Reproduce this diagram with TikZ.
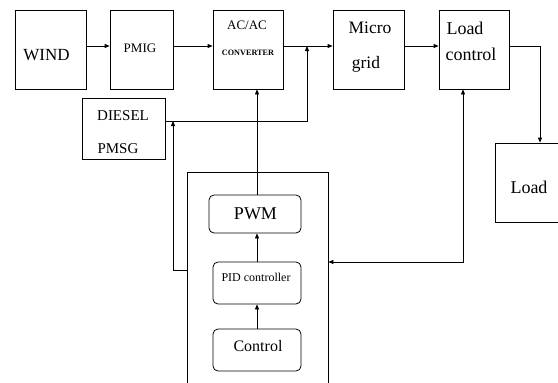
\documentclass[tikz,border=0pt]{standalone}
\usepackage{fontspec}
\setmainfont{Liberation Serif}
\usetikzlibrary{arrows.meta,positioning}

\tikzset{
  blk/.style={draw, line width=0.8pt, inner sep=0pt, minimum height=79pt},
  rblk/.style={draw, line width=0.8pt, rounded corners=5pt, inner sep=0pt},
  lbl/.style={inner sep=0pt, anchor=base},
  wire/.style={line width=0.8pt},
  >={Triangle[length=5pt,width=4pt]}
}

\begin{document}
\begin{tikzpicture}[x=1pt,y=-1pt]
\useasboundingbox (0,0) rectangle (558,383);

\node[blk, minimum width=71pt] (wind) at (50.5,49.5) {};
\node[blk, minimum width=63pt] (pmig) at (141.5,49.5) {};
\node[blk, minimum width=70pt] (conv) at (248,49.5) {};
\node[blk, minimum width=71pt] (micro) at (368.5,49.5) {};
\node[blk, minimum width=70pt] (loadctl) at (474,49.5) {};
\node[blk, minimum width=83pt, minimum height=61pt] (diesel) at (123.5,128.5) {};
\node[blk, minimum width=70pt] (load) at (530,182.5) {};
\node[blk, minimum width=141pt, minimum height=228pt] (ctrlbox) at (257.5,286) {};
\node[rblk, minimum width=92pt, minimum height=38pt] (pwm) at (255,214) {};
\node[rblk, minimum width=88pt, minimum height=42pt] (pid) at (257,283) {};
\node[rblk, minimum width=88pt, minimum height=42pt] (ctrl) at (257,350) {};

\node[lbl, font=\fontsize{17}{20}\selectfont] (windtxt) at (46.5,60) {WIND};
\node[lbl, font=\fontsize{13}{15}\selectfont] (pmigtxt) at (140,52.5) {PMIG};
\node[lbl, font=\fontsize{13}{15}\selectfont] (convtxt) at (247,29.5) {AC/AC};
\node[lbl, font=\bfseries\fontsize{8.2}{10}\selectfont] (convtxtb) at (248,55) {CONVERTER};
\node[lbl, font=\fontsize{17.5}{20}\selectfont] (microtxt) at (370,33.5) {Micro};
\node[lbl, font=\fontsize{17.5}{20}\selectfont] (gridtxt) at (366,68) {grid};
\node[lbl, font=\fontsize{18}{20}\selectfont] (loadctltxt) at (465,34) {Load};
\node[lbl, font=\fontsize{18}{20}\selectfont] (loadctltxtb) at (471,60) {control};
\node[lbl, font=\fontsize{15}{18}\selectfont] (dieseltxt) at (123,120) {DIESEL};
\node[lbl, font=\fontsize{15}{18}\selectfont] (dieseltxtb) at (118,153) {PMSG};
\node[lbl, font=\fontsize{18}{20}\selectfont] (loadtxt) at (529,193) {Load};
\node[lbl, font=\fontsize{18}{20}\selectfont] (pwmtxt) at (255.5,219) {PWM};
\node[lbl, font=\fontsize{12}{14}\selectfont] (pidtxt) at (256,281) {PID controller};
\node[lbl, font=\fontsize{16}{18}\selectfont] (ctrltxt) at (258,351) {Control};

\coordinate (j1) at (307,46);
\coordinate (j2) at (173,121);

\draw[wire,->] ([yshift=3.5pt]wind.east) -- ([yshift=3.5pt]pmig.west);
\draw[wire,->] ([yshift=3.5pt]pmig.east) -- ([yshift=3.5pt]conv.west);
\draw[wire,->] ([yshift=3.5pt]conv.east) -- ([yshift=3.5pt]micro.west);
\draw[wire,->] ([yshift=3.5pt]micro.east) -- ([yshift=3.5pt]loadctl.west);
\draw[wire,->] ([yshift=3.5pt]loadctl.east) -| ([xshift=10pt]load.north);
\draw[wire,->] ([yshift=7.5pt]diesel.east) -| (j1);
\draw[wire,->] ([yshift=16pt]ctrlbox.west) -| (j2);
\draw[wire,->] ([xshift=2pt]pwm.north) -- ([xshift=2pt]pwm.north |- conv.south);
\draw[wire,->] (pid.north) -- (pid.north |- pwm.south);
\draw[wire,->] (ctrl.north) -- (pid.south);
\draw[wire,<->] ([yshift=24pt]ctrlbox.east) -| ([xshift=-11pt]loadctl.south);

\end{tikzpicture}
\end{document}
